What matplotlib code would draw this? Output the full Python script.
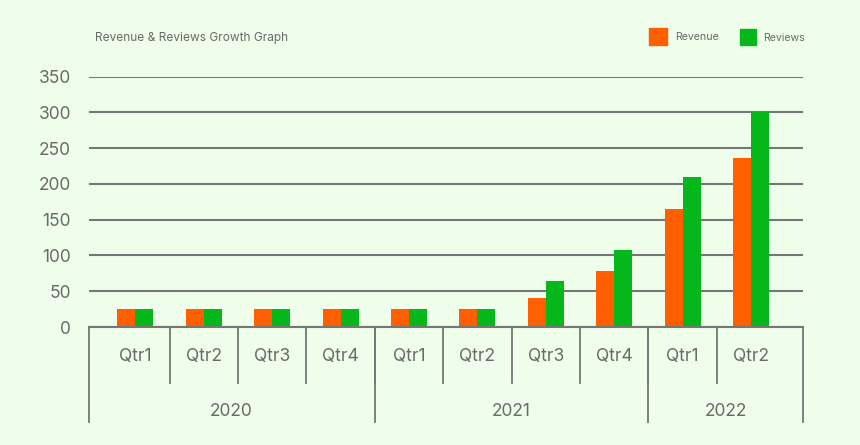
import matplotlib
matplotlib.use('Agg')
import matplotlib.pyplot as plt
from matplotlib.patches import Rectangle

plt.rcParams['font.family'] = ['Inter', 'DejaVu Sans']

years = ['2020', '2021', '2022']
quarters = ['Qtr1', 'Qtr2', 'Qtr3', 'Qtr4', 'Qtr1', 'Qtr2', 'Qtr3', 'Qtr4', 'Qtr1', 'Qtr2']
year_sizes = [4, 4, 2]
revenue = [25, 25, 25, 25, 25, 25, 41, 78, 165, 236]
reviews = [25, 25, 25, 25, 25, 25, 65, 108, 210, 300]

bg = '#effdeb'
orange = '#ff5f00'
green = '#05b71b'
grid_c = '#767676'
text_c = '#6a6a6a'

W, H = 860, 445
fig = plt.figure(figsize=(8.6, 4.45), dpi=100, facecolor=bg)
# axes placed in pixel units
left, right, top, bottom = 88.5, 803, 76.7, 327
ax = fig.add_axes([left / W, (H - bottom) / H, (right - left) / W, (bottom - top) / H])
ax.set_facecolor(bg)
ax_h = bottom - top

x = list(range(len(quarters)))
bw = 0.263
ax.bar([i - bw / 2 for i in x], revenue, bw, color=orange, zorder=3)
ax.bar([i + bw / 2 for i in x], reviews, bw, color=green, zorder=3)

ax.set_xlim(-0.684, 9.76)
ax.set_ylim(0, 350)
ax.set_yticks(range(0, 351, 50))
ax.yaxis.grid(True, color=grid_c, linewidth=1.5, zorder=0)
ax.set_axisbelow(True)
for s in ax.spines.values():
    s.set_visible(False)
ax.tick_params(axis='y', length=0, pad=12.5, labelsize=12.5, labelcolor=text_c)
ax.set_xticks([])

# category axis drawn by hand
tr = ax.get_xaxis_transform()
x0, x1 = ax.get_xlim()
ax.plot([x0, x1], [0, 0], transform=tr, color=grid_c, lw=1.5, clip_on=False, zorder=4)

def ay(px):
    return -px / ax_h

for i in range(1, len(quarters)):
    ax.plot([i - 0.5, i - 0.5], [0, ay(56)], transform=tr, color=grid_c, lw=1.3, clip_on=False)
for i, q in enumerate(quarters):
    ax.text(i, ay(30), q, transform=tr, ha='center', va='center', fontsize=12.5, color=text_c)

bounds = [x0]
pos = 0
for n in year_sizes:
    pos += n
    bounds.append(pos - 0.5 if pos < len(quarters) else x1)
for b in bounds:
    ax.plot([b, b], [0, ay(95)], transform=tr, color=grid_c, lw=1.3, clip_on=False)
for k, yr in enumerate(years):
    ax.text((bounds[k] + bounds[k + 1]) / 2, ay(85), yr, transform=tr,
            ha='center', va='center', fontsize=12.5, color=text_c)

# title and legend
fig.text(95 / W, 1 - 38 / H, 'Revenue & Reviews Growth Graph', fontsize=8.55,
         color=text_c, va='center', ha='left')
fig.patches.append(Rectangle((649 / W, 1 - 45 / H), 18 / W, 17 / H,
                             transform=fig.transFigure, color=orange))
fig.text(675 / W, 1 - 37 / H, 'Revenue', fontsize=7.6, color=text_c, va='center')
fig.patches.append(Rectangle((740 / W, 1 - 45 / H), 16 / W, 16 / H,
                             transform=fig.transFigure, color=green))
fig.text(763 / W, 1 - 38 / H, 'Reviews', fontsize=7.6, color=text_c, va='center')

fig.savefig('out.png', dpi=100, facecolor=bg)
